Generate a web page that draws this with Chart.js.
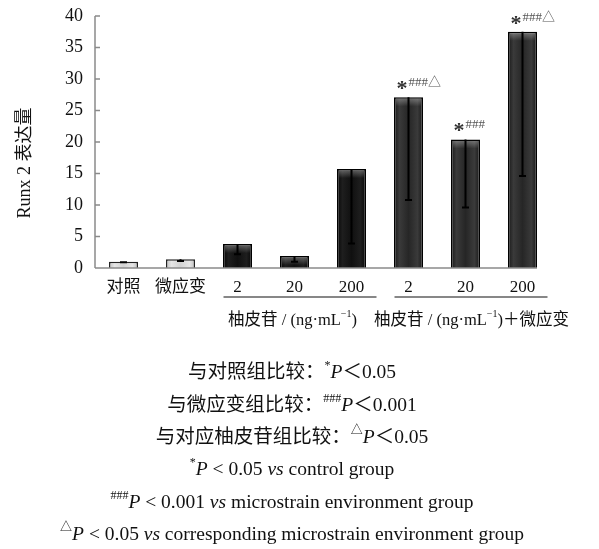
<!DOCTYPE html>
<html>
<head>
<meta charset="utf-8">
<script src="https://cdn.jsdelivr.net/npm/chart.js@4.4.1/dist/chart.umd.min.js"></script>
<style>
  html, body { margin: 0; padding: 0; background: #fff; }
</style>
</head>
<body>
<canvas id="chart" width="599" height="549"></canvas>
<script>
// data
const labels = ["对照", "微应变", "2", "20", "200", "2", "20", "200"];
const values = [1.0, 1.4, 3.8, 1.9, 15.7, 27.1, 20.4, 37.5];
const errLow = [0.1, 0.3, 1.6, 0.9, 11.8, 16.3, 10.8, 22.9];
const marks = ["", "", "", "", "", "*###△", "*###", "*###△"];
const barKind = ["light", "light", "black", "black", "black", "dark", "dark", "dark"];
const yTitle = "Runx 2 表达量";

const groups = [
  { from: 2, to: 4, text: [{ t: "柚皮苷 / (ng·mL" }, { t: "−1", s: "sup" }, { t: ")" }] },
  { from: 5, to: 7, text: [{ t: "柚皮苷 / (ng·mL" }, { t: "−1", s: "sup" }, { t: ")＋微应变" }] },
];

const notes = [
  [{ t: "与对照组比较：" }, { t: "*", s: "sup" }, { t: "P", s: "it" }, { t: "＜0.05" }],
  [{ t: "与微应变组比较：" }, { t: "###", s: "sup" }, { t: "P", s: "it" }, { t: "＜0.001" }],
  [{ t: "与对应柚皮苷组比较：" }, { t: "△", s: "sup" }, { t: "P", s: "it" }, { t: "＜0.05" }],
  [{ t: "*", s: "sup" }, { t: "P", s: "it" }, { t: " < 0.05 " }, { t: "vs", s: "it" }, { t: " control group" }],
  [{ t: "###", s: "sup" }, { t: "P", s: "it" }, { t: " < 0.001 " }, { t: "vs", s: "it" }, { t: " microstrain environment group" }],
  [{ t: "△", s: "sup" }, { t: "P", s: "it" }, { t: " < 0.05 " }, { t: "vs", s: "it" }, { t: " corresponding microstrain environment group" }],
];

const FAM = '"Liberation Serif", "Noto Sans CJK SC", serif';
Chart.defaults.font.family = FAM;
Chart.defaults.color = "#111";

const palette = {
  light: ["#bdbdbd", "#e6e6e6", "#d2d2d2", "#e6e6e6", "#bdbdbd"],
  black: ["#050505", "#1e1e1e", "#101010", "#1e1e1e", "#050505"],
  dark: ["#151515", "#3a3a3a", "#262626", "#3a3a3a", "#151515"],
};

function barFill(ctx) {
  const chart = ctx.chart;
  const i = ctx.dataIndex;
  const x = chart.scales.x;
  const cols = palette[barKind[i]];
  if (!chart.chartArea || !x) return cols[2];
  const cx = x.getPixelForValue(i);
  const half = 15;
  const g = chart.ctx.createLinearGradient(cx - half, 0, cx + half, 0);
  g.addColorStop(0, cols[0]);
  g.addColorStop(0.2, cols[1]);
  g.addColorStop(0.5, cols[2]);
  g.addColorStop(0.8, cols[3]);
  g.addColorStop(1, cols[4]);
  return g;
}

function fontFor(s, size) {
  if (s.s === "sup") return Math.round(size * 0.6) + "px " + FAM;
  if (s.s === "it") return "italic " + size + "px " + FAM;
  return size + "px " + FAM;
}
function richWidth(ctx, segs, size) {
  let w = 0;
  for (const s of segs) {
    ctx.font = fontFor(s, size);
    w += ctx.measureText(s.t).width;
  }
  return w;
}
function drawRich(ctx, segs, cx, cy, size) {
  let x = cx - richWidth(ctx, segs, size) / 2;
  ctx.textBaseline = "middle";
  ctx.textAlign = "left";
  for (const s of segs) {
    ctx.font = fontFor(s, size);
    ctx.fillText(s.t, x, s.s === "sup" ? cy - size * 0.38 : cy);
    x += ctx.measureText(s.t).width;
  }
}

const extras = {
  id: "extras",
  afterDatasetsDraw(chart) {
    const { ctx, chartArea, scales } = chart;
    const x = scales.x, y = scales.y;
    const meta = chart.getDatasetMeta(0);
    ctx.save();

    // top highlight + error bars (lower half only, as in the figure)
    meta.data.forEach((bar, i) => {
      const half = bar.width / 2;
      if (barKind[i] !== "light") {
        const g = ctx.createLinearGradient(0, bar.y, 0, bar.y + 9);
        g.addColorStop(0, "rgba(255,255,255,0.35)");
        g.addColorStop(1, "rgba(255,255,255,0)");
        ctx.fillStyle = g;
        ctx.fillRect(bar.x - half + 2, bar.y + 1.5, bar.width - 4, 9);
      }
      const y0 = y.getPixelForValue(values[i]);
      const y1 = y.getPixelForValue(values[i] - errLow[i]);
      ctx.strokeStyle = "#000";
      ctx.lineWidth = 2;
      ctx.beginPath();
      ctx.moveTo(bar.x, y0);
      ctx.lineTo(bar.x, y1);
      ctx.moveTo(bar.x - 3.5, y1);
      ctx.lineTo(bar.x + 3.5, y1);
      ctx.stroke();
    });

    // significance marks
    meta.data.forEach((bar, i) => {
      const m = marks[i];
      if (!m) return;
      const top = bar.y;
      let px = bar.x - 12;
      ctx.fillStyle = "#333";
      ctx.textAlign = "left";
      ctx.textBaseline = "alphabetic";
      ctx.font = "bold 22px " + FAM;
      ctx.fillText("*", px, top - 2);
      px += ctx.measureText("*").width + 1;
      ctx.font = "13px " + FAM;
      ctx.fillStyle = "#555";
      ctx.fillText(m.slice(1), px, top - 11);
    });

    // axis lines and inward ticks
    ctx.strokeStyle = "#8a8a8a";
    ctx.lineWidth = 1.5;
    const lastBar = meta.data[meta.data.length - 1];
    ctx.beginPath();
    ctx.moveTo(chartArea.left, chartArea.bottom);
    ctx.lineTo(lastBar.x + lastBar.width / 2, chartArea.bottom);
    ctx.moveTo(chartArea.left, chartArea.top);
    ctx.lineTo(chartArea.left, chartArea.bottom);
    y.ticks.forEach((t) => {
      const py = y.getPixelForValue(t.value);
      ctx.moveTo(chartArea.left, py);
      ctx.lineTo(chartArea.left + 5, py);
    });
    ctx.stroke();

    // group underlines and labels
    ctx.fillStyle = "#111";
    ctx.strokeStyle = "#111";
    ctx.lineWidth = 1.2;
    const labelShift = [-2, 6];
    groups.forEach((g, k) => {
      const a = x.getPixelForValue(g.from) - 14;
      const b = x.getPixelForValue(g.to) + 25;
      ctx.beginPath();
      ctx.moveTo(a, 297);
      ctx.lineTo(b, 297);
      ctx.stroke();
      const c = (x.getPixelForValue(g.from) + x.getPixelForValue(g.to)) / 2 + labelShift[k];
      drawRich(ctx, g.text, c, 321, 16.5);
    });

    // y title
    ctx.save();
    ctx.translate(25, 163);
    ctx.rotate(-Math.PI / 2);
    ctx.font = "18px " + FAM;
    ctx.textAlign = "center";
    ctx.textBaseline = "middle";
    ctx.fillText(yTitle, 0, 0);
    ctx.restore();

    // notes under the chart
    const noteY = [373, 406, 438, 470, 503, 535];
    notes.forEach((segs, k) => drawRich(ctx, segs, 292, noteY[k], 19.5));

    ctx.restore();
  },
};

new Chart(document.getElementById("chart"), {
  type: "bar",
  data: {
    labels: labels,
    datasets: [
      {
        data: values,
        backgroundColor: barFill,
        borderColor: (c) => (barKind[c.dataIndex] === "light" ? "#222" : "#000"),
        borderWidth: 1.5,
        borderSkipped: "bottom",
        barPercentage: 0.51,
        categoryPercentage: 1,
      },
    ],
  },
  options: {
    responsive: false,
    animation: false,
    devicePixelRatio: 1,
    layout: { padding: { top: 16, right: 48, left: 0, bottom: 0 } },
    plugins: { legend: { display: false }, tooltip: { enabled: false } },
    scales: {
      y: {
        min: 0,
        max: 40,
        ticks: { stepSize: 5, padding: 12, font: { size: 18 }, color: "#111" },
        grid: { display: false, drawTicks: false },
        border: { display: false },
        afterFit: (s) => { s.width = 95; s.paddingTop = 0; s.paddingBottom = 0; },
      },
      x: {
        ticks: { padding: 9, font: { size: 17 }, color: "#111", maxRotation: 0, autoSkip: false },
        grid: { display: false, drawTicks: false },
        border: { display: false },
        afterFit: (s) => { s.height = 281; s.paddingLeft = 0; s.paddingRight = 0; },
      },
    },
  },
  plugins: [extras],
});
</script>
</body>
</html>
